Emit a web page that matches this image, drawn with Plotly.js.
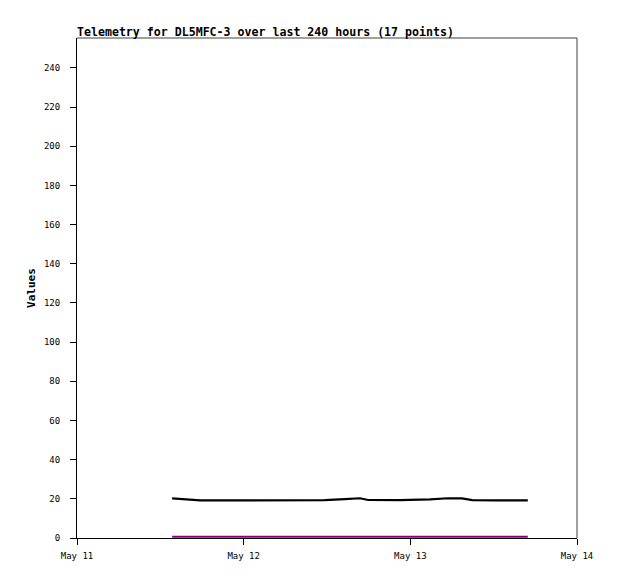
<!DOCTYPE html>
<html>
<head>
<meta charset="utf-8">
<script src="https://cdn.plot.ly/plotly-3.0.1.min.js"></script>
<style>html,body{margin:0;padding:0;background:#fff;}#chart{width:618px;height:579px;}</style>
</head>
<body>
<div id="chart"></div>
<script>
// Timestamps of the 17 telemetry points
var times = [
  "2024-05-11 13:42", "2024-05-11 15:35", "2024-05-11 17:45", "2024-05-11 23:30",
  "2024-05-12 05:15", "2024-05-12 11:40", "2024-05-12 14:35", "2024-05-12 16:45",
  "2024-05-12 17:55", "2024-05-12 22:30", "2024-05-13 02:50", "2024-05-13 05:25",
  "2024-05-13 07:25", "2024-05-13 08:55", "2024-05-13 12:10", "2024-05-13 15:05",
  "2024-05-13 16:55"
];
var seriesBlack = [20.2, 19.8, 19.2, 19.2, 19.2, 19.3, 19.9, 20.3, 19.4, 19.3, 19.7, 20.3, 20.2, 19.3, 19.2, 19.2, 19.2];
var seriesPurple = [0.6, 0.6, 0.6, 0.6, 0.6, 0.6, 0.6, 0.6, 0.6, 0.6, 0.6, 0.6, 0.6, 0.6, 0.6, 0.6, 0.6];
var xTickVals = ["2024-05-11", "2024-05-12", "2024-05-13", "2024-05-14"];
var xTickText = ["May 11", "May 12", "May 13", "May 14"];
var yTickVals = [0, 20, 40, 60, 80, 100, 120, 140, 160, 180, 200, 220, 240];

var mono = "DejaVu Sans Mono, monospace";
var traces = [
  {x: times, y: seriesPurple, type: "scatter", mode: "lines", line: {color: "#800080", width: 2}, hoverinfo: "skip", cliponaxis: false},
  {x: times, y: seriesBlack, type: "scatter", mode: "lines", line: {color: "#000000", width: 2.2}, hoverinfo: "skip"}
];
var layout = {
  width: 618, height: 579,
  margin: {l: 77, r: 41, t: 38, b: 41},
  paper_bgcolor: "#ffffff", plot_bgcolor: "#ffffff",
  showlegend: false,
  title: {text: "<b>Telemetry for DL5MFC-3 over last 240 hours (17 points)</b>",
          font: {family: mono, size: 11.6, color: "#000"},
          xref: "container", x: 77/618, xanchor: "left",
          yref: "container", y: 1 - 31.5/579, yanchor: "middle"},
  xaxis: {
    type: "date", range: ["2024-05-11", "2024-05-14"],
    tickmode: "array", tickvals: xTickVals, ticktext: xTickText,
    showgrid: false, zeroline: false,
    showline: true, linecolor: "#000", linewidth: 1,
    ticks: "outside", ticklen: 6, tickcolor: "#000", tickwidth: 1,
    ticklabelstandoff: 3,
    tickfont: {family: mono, size: 9, color: "#000"}
  },
  yaxis: {
    range: [0, 255.3],
    tickmode: "array", tickvals: yTickVals,
    showgrid: false, zeroline: false,
    showline: true, linecolor: "#000", linewidth: 1,
    ticks: "outside", ticklen: 6, tickcolor: "#000", tickwidth: 1,
    ticklabelstandoff: 8,
    tickfont: {family: mono, size: 9, color: "#000"},
    title: {text: "<b>Values</b>", font: {family: mono, size: 11, color: "#000"}, standoff: 6}
  },
  shapes: [
    {type: "line", xref: "paper", yref: "paper", x0: 0, x1: 1, y0: 1, y1: 1, line: {color: "#404040", width: 1}},
    {type: "line", xref: "paper", yref: "paper", x0: 1, x1: 1, y0: 0, y1: 1, line: {color: "#404040", width: 1}}
  ]
};
Plotly.newPlot("chart", traces, layout, {displayModeBar: false, staticPlot: true});
</script>
</body>
</html>
